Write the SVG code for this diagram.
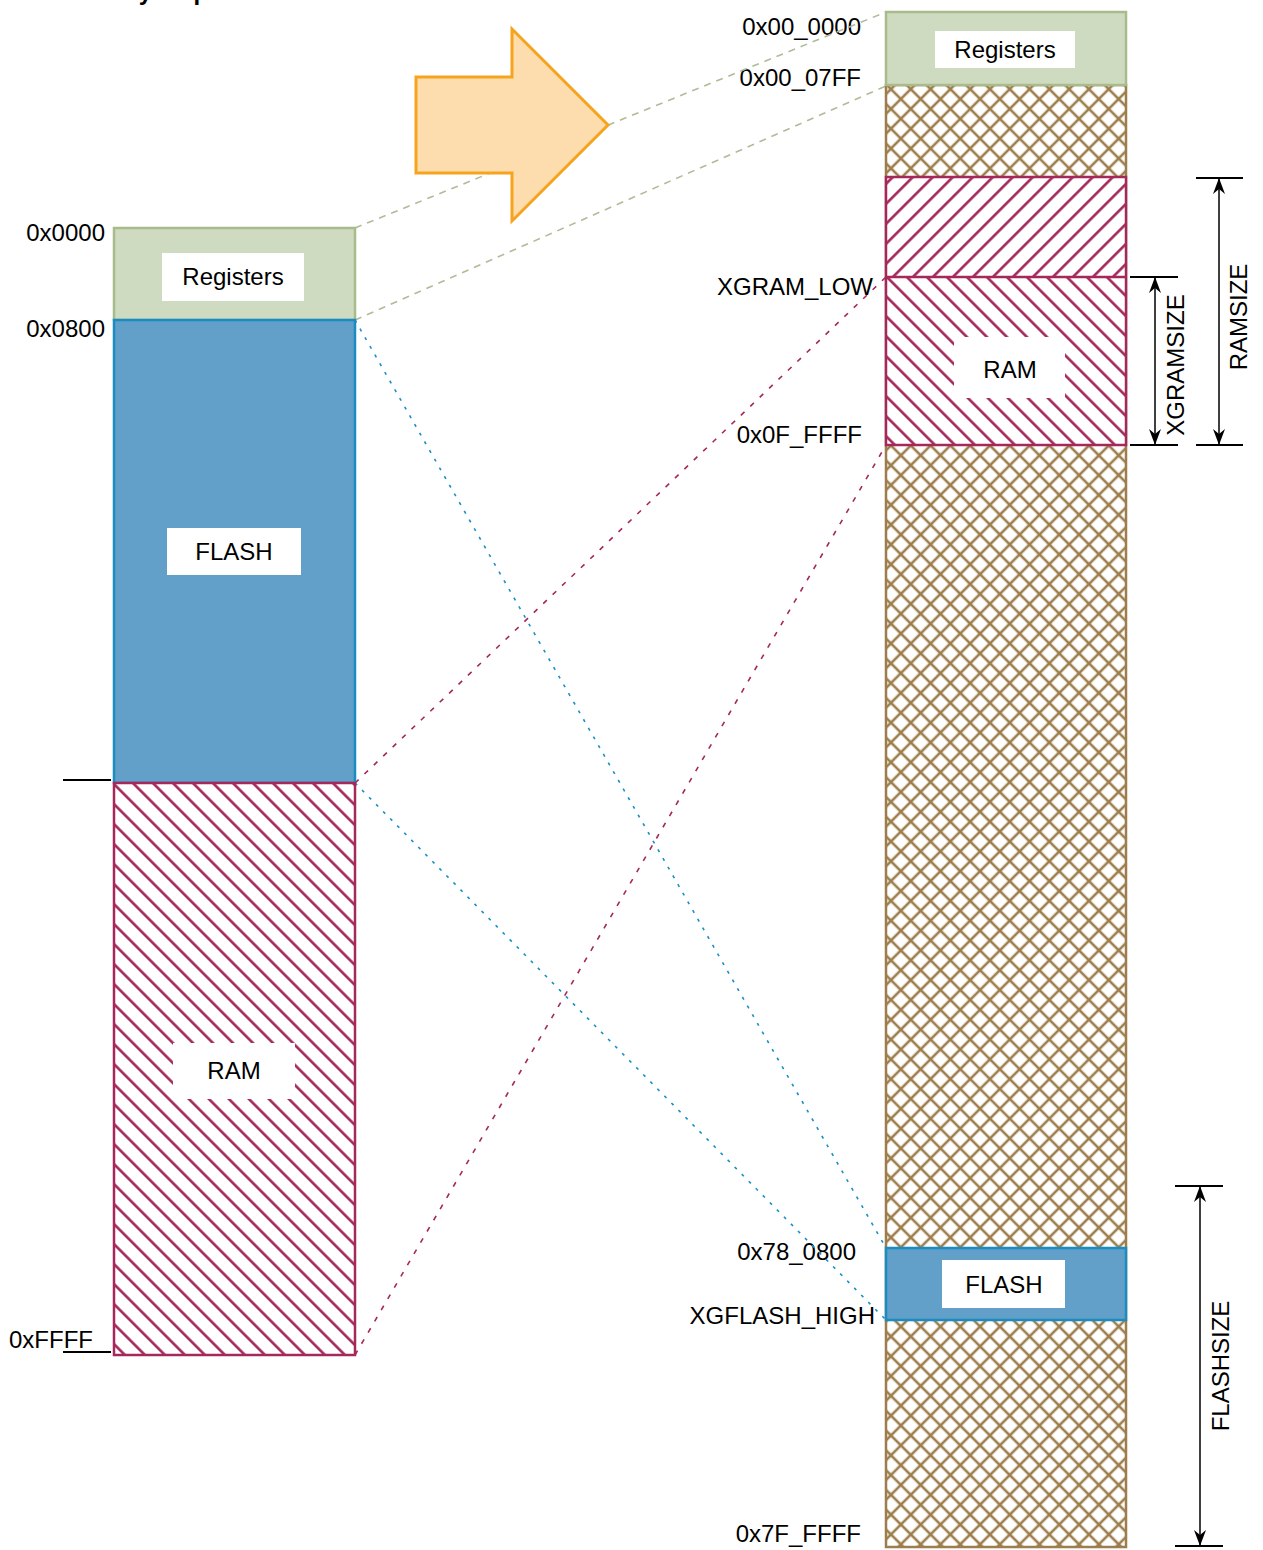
<svg xmlns="http://www.w3.org/2000/svg" width="1263" height="1550" viewBox="0 0 1263 1550">
<style>
text{font-family:"Liberation Sans",Arial,Helvetica,sans-serif;font-size:24px;fill:#000}
.mid{text-anchor:middle}
.end{text-anchor:end}
.reg{fill:#cfdbc1;stroke:#a8bc8b;stroke-width:2.5}
.fl{fill:#62a0ca;stroke:#1a8cc2;stroke-width:2.5}
.ramo{fill:none;stroke:#a4285a;stroke-width:2.5}
.lbl{fill:#fff;stroke:none}
.dg{fill:none;stroke:#b0bc98;stroke-width:1.6;stroke-dasharray:7 6}
.db{fill:none;stroke:#1a8fc4;stroke-width:1.6;stroke-dasharray:3 7}
.dr{fill:none;stroke:#a4285a;stroke-width:1.6;stroke-dasharray:5 8}
.tick{stroke:#000;stroke-width:2}
.dim{stroke:#000;stroke-width:1.5;fill:none;marker-start:url(#arr);marker-end:url(#arr)}
</style>
<defs>
<pattern id="hatchBack" patternUnits="userSpaceOnUse" width="14.142" height="10" patternTransform="rotate(-45)">
<line x1="7" y1="-1" x2="7" y2="11" stroke="#a4285a" stroke-width="2.6"/>
</pattern>
<pattern id="hatchFwd" patternUnits="userSpaceOnUse" width="14.142" height="10" patternTransform="rotate(45)">
<line x1="7" y1="-1" x2="7" y2="11" stroke="#a4285a" stroke-width="2.6"/>
</pattern>
<pattern id="cross" patternUnits="userSpaceOnUse" width="14" height="14" patternTransform="rotate(45)">
<line x1="7" y1="-1" x2="7" y2="15" stroke="#9c7d4b" stroke-width="2.6"/>
<line x1="-1" y1="7" x2="15" y2="7" stroke="#9c7d4b" stroke-width="2.6"/>
</pattern>
<marker id="arr" viewBox="-17 -7 19 14" refX="0" refY="0" markerWidth="19" markerHeight="14" markerUnits="userSpaceOnUse" orient="auto-start-reverse">
<path d="M0,0 L-16,-6 L-11,0 L-16,6 Z" fill="#000"/>
</marker>
</defs>
<rect x="0" y="0" width="1263" height="1550" fill="#fff"/>

<g id="title"><text x="60" y="-0.5" style="font-weight:bold">Memory map</text></g>

<g id="labels-left">
<text class="end" x="105" y="241">0x0000</text>
<text class="end" x="105" y="337">0x0800</text>
<line class="tick" x1="63" y1="780" x2="111" y2="780"/>
<text x="9" y="1348">0xFFFF</text>
<line class="tick" x1="63" y1="1352" x2="111" y2="1352"/>
</g>

<g id="labels-right">
<text class="end" x="861" y="35">0x00_0000</text>
<text class="end" x="861" y="86">0x00_07FF</text>
<text class="end" x="873" y="295">XGRAM_LOW</text>
<text class="end" x="862" y="443">0x0F_FFFF</text>
<text class="end" x="856" y="1260">0x78_0800</text>
<text class="end" x="875" y="1324">XGFLASH_HIGH</text>
<text class="end" x="861" y="1542">0x7F_FFFF</text>
</g>

<g id="connectors">
<line class="dg" x1="355" y1="228" x2="886" y2="12"/>
<line class="dg" x1="355" y1="320" x2="886" y2="86"/>
<line class="db" x1="355" y1="320" x2="886" y2="1248"/>
<line class="db" x1="355" y1="783" x2="886" y2="1320"/>
<line class="dr" x1="355" y1="783" x2="886" y2="277"/>
<line class="dr" x1="355" y1="1355" x2="886" y2="445"/>
</g>

<g id="big-arrow">
<path d="M416,77 L512,77 L512,29 L608,125 L512,221 L512,173 L416,173 Z" fill="#fddcae" stroke="#f6a31e" stroke-width="3"/>
</g>

<g id="left-registers">
<rect class="reg" x="114" y="228" width="241" height="92"/>
<rect class="lbl" x="162" y="253" width="142" height="48"/>
<text class="mid" x="233" y="285">Registers</text>
</g>
<g id="left-flash">
<rect class="fl" x="114" y="320" width="241" height="463"/>
<rect class="lbl" x="167" y="528" width="134" height="47"/>
<text class="mid" x="234" y="560">FLASH</text>
</g>
<g id="left-ram">
<rect x="114" y="783" width="241" height="572" fill="#fff"/>
<rect x="114" y="783" width="241" height="572" fill="url(#hatchBack)"/>
<rect class="ramo" x="114" y="783" width="241" height="572"/>
<rect class="lbl" x="173" y="1043" width="122" height="56"/>
<text class="mid" x="234" y="1079">RAM</text>
</g>

<g id="right-space">
<rect x="886" y="85" width="240" height="1462" fill="#fff"/>
<rect x="886" y="85" width="240" height="1462" fill="url(#cross)" stroke="#9c7d4b" stroke-width="2.5"/>
</g>
<g id="right-registers">
<rect class="reg" x="886" y="12" width="240" height="73"/>
<rect class="lbl" x="935" y="31" width="140" height="37"/>
<text class="mid" x="1005" y="58">Registers</text>
</g>
<g id="right-ram">
<rect x="886" y="177" width="240" height="268" fill="#fff"/>
<rect x="886" y="177" width="240" height="100" fill="url(#hatchFwd)"/>
<rect x="886" y="277" width="240" height="168" fill="url(#hatchBack)"/>
<rect class="ramo" x="886" y="177" width="240" height="268"/>
<line class="ramo" x1="886" y1="277" x2="1126" y2="277"/>
<rect class="lbl" x="954" y="337" width="111" height="61"/>
<text class="mid" x="1010" y="378">RAM</text>
</g>
<g id="right-flash">
<rect class="fl" x="886" y="1248" width="240" height="72"/>
<rect class="lbl" x="942" y="1260" width="123" height="48"/>
<text class="mid" x="1004" y="1293">FLASH</text>
</g>

<g id="dim-ramsize">
<line class="tick" x1="1196" y1="178" x2="1243" y2="178"/>
<line class="tick" x1="1196" y1="445" x2="1243" y2="445"/>
<line class="dim" x1="1219" y1="178" x2="1219" y2="445"/>
<text class="mid" transform="rotate(-90 1239 317)" x="1239" y="325">RAMSIZE</text>
</g>
<g id="dim-xgramsize">
<line class="tick" x1="1130" y1="277" x2="1178" y2="277"/>
<line class="tick" x1="1130" y1="445" x2="1178" y2="445"/>
<line class="dim" x1="1155" y1="277" x2="1155" y2="445"/>
<text class="mid" transform="rotate(-90 1176 365)" x="1176" y="373">XGRAMSIZE</text>
</g>
<g id="dim-flashsize">
<line class="tick" x1="1175" y1="1186" x2="1223" y2="1186"/>
<line class="tick" x1="1175" y1="1546" x2="1223" y2="1546"/>
<line class="dim" x1="1200" y1="1186" x2="1200" y2="1546"/>
<text class="mid" transform="rotate(-90 1221 1366)" x="1221" y="1374">FLASHSIZE</text>
</g>
</svg>
